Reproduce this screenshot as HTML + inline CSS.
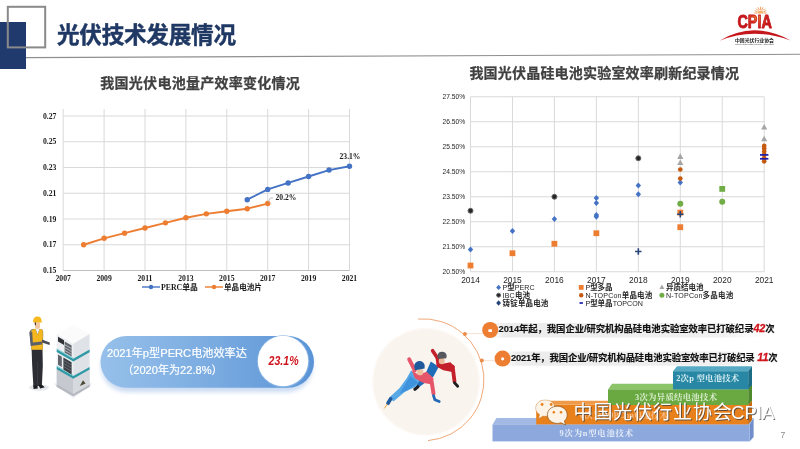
<!DOCTYPE html>
<html lang="zh"><head><meta charset="utf-8"><title>光伏技术发展情况</title>
<style>html,body{margin:0;padding:0;background:#fff}body{width:800px;height:449px;overflow:hidden}svg{display:block}text{font-family:"Liberation Sans","Noto Sans CJK SC",sans-serif}.sf{font-family:"Liberation Serif","Noto Serif CJK SC",serif}</style></head><body>
<svg width="800" height="449" viewBox="0 0 800 449">
<defs>
<linearGradient id="pill" x1="0" y1="0" x2="1" y2="0"><stop offset="0" stop-color="#96c0ea"/><stop offset="0.55" stop-color="#79aae0"/><stop offset="1" stop-color="#5a94d6"/></linearGradient>
<linearGradient id="bar1" x1="0" y1="0" x2="1" y2="0"><stop offset="0" stop-color="#ffffff" stop-opacity="0"/><stop offset="0.08" stop-color="#ececec"/><stop offset="0.8" stop-color="#f0f0f0"/><stop offset="1" stop-color="#ffffff" stop-opacity="0"/></linearGradient>
<radialGradient id="cpia" gradientUnits="userSpaceOnUse" cx="757" cy="17" r="13"><stop offset="0" stop-color="#f0882a"/><stop offset="0.5" stop-color="#d83a20"/><stop offset="1" stop-color="#c4161c"/></radialGradient>
<filter id="blur2" x="-20%" y="-20%" width="140%" height="140%"><feGaussianBlur stdDeviation="2"/></filter>
<filter id="blur05" x="-10%" y="-20%" width="120%" height="140%"><feGaussianBlur stdDeviation="0.5"/></filter>
<filter id="blur1" x="-20%" y="-20%" width="140%" height="140%"><feGaussianBlur stdDeviation="1"/></filter>
</defs>
<rect width="800" height="449" fill="#fff"/>
<rect x="0" y="22" width="26" height="47" fill="#203a6e"/>
<path d="M26 57.6 L800 54.3" stroke="#8f8f8f" stroke-width="1.1" fill="none"/>
<rect x="7.8" y="6.8" width="37.4" height="40.6" fill="none" stroke="#8a8a8a" stroke-width="2"/>
<text x="57" y="43.1" font-size="22.6" font-weight="bold" fill="#1f3864" stroke="#1f3864" stroke-width="0.45" letter-spacing="-0.25">光伏技术发展情况</text>
<g id="logo">
<line x1="757.3" y1="13.0" x2="754.3" y2="13.0" stroke="#f0a060" stroke-width="1"/>
<line x1="757.5" y1="11.8" x2="754.8" y2="10.6" stroke="#f0a060" stroke-width="1"/>
<line x1="758.2" y1="10.7" x2="756.1" y2="8.6" stroke="#f0a060" stroke-width="1"/>
<line x1="759.3" y1="10.0" x2="758.1" y2="7.3" stroke="#f0a060" stroke-width="1"/>
<line x1="760.5" y1="9.8" x2="760.5" y2="6.8" stroke="#f0a060" stroke-width="1"/>
<line x1="761.7" y1="10.0" x2="762.9" y2="7.3" stroke="#f0a060" stroke-width="1"/>
<line x1="762.8" y1="10.7" x2="764.9" y2="8.6" stroke="#f0a060" stroke-width="1"/>
<line x1="763.5" y1="11.8" x2="766.2" y2="10.6" stroke="#f0a060" stroke-width="1"/>
<line x1="763.7" y1="13.0" x2="766.7" y2="13.0" stroke="#f0a060" stroke-width="1"/>
<path d="M757.5 13.5 A3 3 0 0 1 763.5 13.5 Z" fill="#f6b26b"/>
<text x="737.4" y="28" font-size="18.5" font-weight="bold" fill="url(#cpia)" stroke="#c4161c" stroke-width="0.9" stroke-linejoin="round" textLength="34.4" lengthAdjust="spacingAndGlyphs">CPIA</text>
<path d="M719.6 40.8 Q753 20 790.6 40.4 Q753 27 719.6 40.8 Z" fill="#c4161c"/>
<text x="754.5" y="41.7" font-size="4.8" font-weight="bold" fill="#222" text-anchor="middle" textLength="39" lengthAdjust="spacingAndGlyphs">中国光伏行业协会</text>
<text x="754.5" y="45" font-size="2.4" fill="#444" text-anchor="middle" textLength="39" lengthAdjust="spacingAndGlyphs">China Photovoltaic Industry Association</text>
</g>
<text x="200.2" y="88.3" font-size="14" font-weight="bold" fill="#404040" stroke="#404040" stroke-width="0.25" text-anchor="middle" letter-spacing="0.27">我国光伏电池量产效率变化情况</text>
<path d="M63.20 270.50H349.50M63.20 244.75H349.50M63.20 219.00H349.50M63.20 193.25H349.50M63.20 167.50H349.50M63.20 141.75H349.50M63.20 116.00H349.50M63.20 109.00V270.50M104.10 109.00V270.50M145.00 109.00V270.50M185.90 109.00V270.50M226.80 109.00V270.50M267.70 109.00V270.50M308.60 109.00V270.50M349.50 109.00V270.50" stroke="#d9d9d9" stroke-width="1" fill="none"/>
<path d="M63.20 270.50H349.50" stroke="#bfbfbf" stroke-width="1" fill="none"/>
<text class="sf" x="56.4" y="273.10" font-size="7.7" font-weight="bold" fill="#1a1a1a" text-anchor="end">0.15</text>
<text class="sf" x="56.4" y="247.35" font-size="7.7" font-weight="bold" fill="#1a1a1a" text-anchor="end">0.17</text>
<text class="sf" x="56.4" y="221.60" font-size="7.7" font-weight="bold" fill="#1a1a1a" text-anchor="end">0.19</text>
<text class="sf" x="56.4" y="195.85" font-size="7.7" font-weight="bold" fill="#1a1a1a" text-anchor="end">0.21</text>
<text class="sf" x="56.4" y="170.10" font-size="7.7" font-weight="bold" fill="#1a1a1a" text-anchor="end">0.23</text>
<text class="sf" x="56.4" y="144.35" font-size="7.7" font-weight="bold" fill="#1a1a1a" text-anchor="end">0.25</text>
<text class="sf" x="56.4" y="118.60" font-size="7.7" font-weight="bold" fill="#1a1a1a" text-anchor="end">0.27</text>
<text class="sf" x="63.20" y="281" font-size="7.7" font-weight="bold" fill="#1a1a1a" text-anchor="middle">2007</text>
<text class="sf" x="104.10" y="281" font-size="7.7" font-weight="bold" fill="#1a1a1a" text-anchor="middle">2009</text>
<text class="sf" x="145.00" y="281" font-size="7.7" font-weight="bold" fill="#1a1a1a" text-anchor="middle">2011</text>
<text class="sf" x="185.90" y="281" font-size="7.7" font-weight="bold" fill="#1a1a1a" text-anchor="middle">2013</text>
<text class="sf" x="226.80" y="281" font-size="7.7" font-weight="bold" fill="#1a1a1a" text-anchor="middle">2015</text>
<text class="sf" x="267.70" y="281" font-size="7.7" font-weight="bold" fill="#1a1a1a" text-anchor="middle">2017</text>
<text class="sf" x="308.60" y="281" font-size="7.7" font-weight="bold" fill="#1a1a1a" text-anchor="middle">2019</text>
<text class="sf" x="349.50" y="281" font-size="7.7" font-weight="bold" fill="#1a1a1a" text-anchor="middle">2021</text>
<path d="M83.65 244.75 L104.10 238.31 L124.55 233.16 L145.00 228.01 L165.45 222.86 L185.90 217.71 L206.35 213.85 L226.80 211.27 L247.25 208.70 L267.70 203.55" stroke="#ed7d31" stroke-width="1.9" fill="none" stroke-linejoin="round"/>
<circle cx="83.65" cy="244.75" r="2.7" fill="#ed7d31"/>
<circle cx="104.10" cy="238.31" r="2.7" fill="#ed7d31"/>
<circle cx="124.55" cy="233.16" r="2.7" fill="#ed7d31"/>
<circle cx="145.00" cy="228.01" r="2.7" fill="#ed7d31"/>
<circle cx="165.45" cy="222.86" r="2.7" fill="#ed7d31"/>
<circle cx="185.90" cy="217.71" r="2.7" fill="#ed7d31"/>
<circle cx="206.35" cy="213.85" r="2.7" fill="#ed7d31"/>
<circle cx="226.80" cy="211.27" r="2.7" fill="#ed7d31"/>
<circle cx="247.25" cy="208.70" r="2.7" fill="#ed7d31"/>
<circle cx="267.70" cy="203.55" r="2.7" fill="#ed7d31"/>
<path d="M247.25 199.69 L267.70 189.39 L288.15 182.95 L308.60 176.51 L329.05 170.07 L349.50 166.21" stroke="#4472c4" stroke-width="1.9" fill="none" stroke-linejoin="round"/>
<circle cx="247.25" cy="199.69" r="2.7" fill="#4472c4"/>
<circle cx="267.70" cy="189.39" r="2.7" fill="#4472c4"/>
<circle cx="288.15" cy="182.95" r="2.7" fill="#4472c4"/>
<circle cx="308.60" cy="176.51" r="2.7" fill="#4472c4"/>
<circle cx="329.05" cy="170.07" r="2.7" fill="#4472c4"/>
<circle cx="349.50" cy="166.21" r="2.7" fill="#4472c4"/>
<path d="M268 202.5 L270.3 198 L273 198" stroke="#a6a6a6" stroke-width="0.7" fill="none"/>
<text class="sf" x="286" y="199.8" font-size="7.6" font-weight="bold" fill="#1a1a1a" text-anchor="middle">20.2%</text>
<text class="sf" x="350" y="158.8" font-size="7.6" font-weight="bold" fill="#1a1a1a" text-anchor="middle">23.1%</text>
<path d="M142 287H160" stroke="#4472c4" stroke-width="1.4"/><circle cx="151" cy="287" r="2.2" fill="#4472c4"/>
<text class="sf" x="161" y="289.8" font-size="7.8" font-weight="bold" fill="#1a1a1a">PERC<tspan font-family='"Liberation Sans","Noto Sans CJK SC",sans-serif'>单晶</tspan></text>
<path d="M205 287H223" stroke="#ed7d31" stroke-width="1.4"/><circle cx="214" cy="287" r="2.2" fill="#ed7d31"/>
<text x="224" y="289.8" font-size="7.6" font-weight="bold" fill="#1a1a1a">单晶电池片</text>
<text x="604.3" y="78" font-size="14" font-weight="bold" fill="#404040" stroke="#404040" stroke-width="0.25" text-anchor="middle" letter-spacing="0.2">我国光伏晶硅电池实验室效率刷新纪录情况</text>
<path d="M470.50 271.75H764.20M470.50 246.75H764.20M470.50 221.75H764.20M470.50 196.75H764.20M470.50 171.75H764.20M470.50 146.75H764.20M470.50 121.75H764.20M470.50 96.75H764.20M470.50 96.75V271.75M512.46 96.75V271.75M554.41 96.75V271.75M596.37 96.75V271.75M638.33 96.75V271.75M680.29 96.75V271.75M722.24 96.75V271.75M764.20 96.75V271.75" stroke="#d9d9d9" stroke-width="1" fill="none"/>
<text x="465.2" y="274.35" font-size="6.9" fill="#262626" text-anchor="end" textLength="22.6" lengthAdjust="spacingAndGlyphs">20.50%</text>
<text x="465.2" y="249.35" font-size="6.9" fill="#262626" text-anchor="end" textLength="22.6" lengthAdjust="spacingAndGlyphs">21.50%</text>
<text x="465.2" y="224.35" font-size="6.9" fill="#262626" text-anchor="end" textLength="22.6" lengthAdjust="spacingAndGlyphs">22.50%</text>
<text x="465.2" y="199.35" font-size="6.9" fill="#262626" text-anchor="end" textLength="22.6" lengthAdjust="spacingAndGlyphs">23.50%</text>
<text x="465.2" y="174.35" font-size="6.9" fill="#262626" text-anchor="end" textLength="22.6" lengthAdjust="spacingAndGlyphs">24.50%</text>
<text x="465.2" y="149.35" font-size="6.9" fill="#262626" text-anchor="end" textLength="22.6" lengthAdjust="spacingAndGlyphs">25.50%</text>
<text x="465.2" y="124.35" font-size="6.9" fill="#262626" text-anchor="end" textLength="22.6" lengthAdjust="spacingAndGlyphs">26.50%</text>
<text x="465.2" y="99.35" font-size="6.9" fill="#262626" text-anchor="end" textLength="22.6" lengthAdjust="spacingAndGlyphs">27.50%</text>
<text x="470.50" y="282.6" font-size="8.4" fill="#262626" text-anchor="middle">2014</text>
<text x="512.46" y="282.6" font-size="8.4" fill="#262626" text-anchor="middle">2015</text>
<text x="554.41" y="282.6" font-size="8.4" fill="#262626" text-anchor="middle">2016</text>
<text x="596.37" y="282.6" font-size="8.4" fill="#262626" text-anchor="middle">2017</text>
<text x="638.33" y="282.6" font-size="8.4" fill="#262626" text-anchor="middle">2018</text>
<text x="680.29" y="282.6" font-size="8.4" fill="#262626" text-anchor="middle">2019</text>
<text x="722.24" y="282.6" font-size="8.4" fill="#262626" text-anchor="middle">2020</text>
<text x="764.20" y="282.6" font-size="8.4" fill="#262626" text-anchor="middle">2021</text>
<rect x="467.60" y="262.60" width="5.80" height="5.80" fill="#ed7d31"/>
<rect x="509.56" y="250.35" width="5.80" height="5.80" fill="#ed7d31"/>
<rect x="551.51" y="240.85" width="5.80" height="5.80" fill="#ed7d31"/>
<rect x="593.47" y="230.35" width="5.80" height="5.80" fill="#ed7d31"/>
<rect x="677.39" y="209.70" width="5.80" height="5.80" fill="#ed7d31"/>
<rect x="677.39" y="224.30" width="5.80" height="5.80" fill="#ed7d31"/>
<path d="M470.50 246.50L473.20 249.50L470.50 252.50L467.80 249.50Z" fill="#4472c4"/>
<path d="M512.46 228.00L515.16 231.00L512.46 234.00L509.76 231.00Z" fill="#4472c4"/>
<path d="M554.41 216.00L557.11 219.00L554.41 222.00L551.71 219.00Z" fill="#4472c4"/>
<path d="M596.37 195.00L599.07 198.00L596.37 201.00L593.67 198.00Z" fill="#4472c4"/>
<path d="M596.37 200.00L599.07 203.00L596.37 206.00L593.67 203.00Z" fill="#4472c4"/>
<path d="M596.37 212.00L599.07 215.00L596.37 218.00L593.67 215.00Z" fill="#4472c4"/>
<path d="M596.37 213.75L599.07 216.75L596.37 219.75L593.67 216.75Z" fill="#4472c4"/>
<path d="M638.33 182.60L641.03 185.60L638.33 188.60L635.63 185.60Z" fill="#4472c4"/>
<path d="M638.33 191.30L641.03 194.30L638.33 197.30L635.63 194.30Z" fill="#4472c4"/>
<path d="M680.29 179.40L682.99 182.40L680.29 185.40L677.59 182.40Z" fill="#4472c4"/>
<circle cx="470.50" cy="210.75" r="2.50" fill="#262626" stroke="#6a6a6a" stroke-width="1"/>
<circle cx="554.41" cy="196.75" r="2.50" fill="#262626" stroke="#6a6a6a" stroke-width="1"/>
<circle cx="638.33" cy="158.25" r="2.50" fill="#262626" stroke="#6a6a6a" stroke-width="1"/>
<path d="M680.29 153.30L683.39 158.88L677.19 158.88Z" fill="#a5a5a5"/>
<path d="M680.29 159.50L683.39 165.08L677.19 165.08Z" fill="#a5a5a5"/>
<path d="M764.20 123.90L767.30 129.48L761.10 129.48Z" fill="#a5a5a5"/>
<path d="M764.20 135.70L767.30 141.28L761.10 141.28Z" fill="#a5a5a5"/>
<circle cx="680.29" cy="169.50" r="2.35" fill="#c55a11"/>
<circle cx="680.29" cy="178.60" r="2.35" fill="#c55a11"/>
<circle cx="764.20" cy="145.90" r="2.35" fill="#c55a11"/>
<circle cx="764.20" cy="148.50" r="2.35" fill="#c55a11"/>
<circle cx="764.20" cy="151.50" r="2.35" fill="#c55a11"/>
<circle cx="764.20" cy="154.50" r="2.35" fill="#c55a11"/>
<circle cx="764.20" cy="158.00" r="2.35" fill="#c55a11"/>
<circle cx="764.20" cy="161.30" r="2.35" fill="#c55a11"/>
<circle cx="680.29" cy="203.80" r="3.00" fill="#70ad47"/>
<circle cx="722.24" cy="201.75" r="3.00" fill="#70ad47"/>
<rect x="719.34" y="186.00" width="5.80" height="5.80" fill="#70ad47"/>
<path d="M635.13 251.50H641.53M638.33 248.30V254.70" stroke="#264478" stroke-width="1.6" fill="none"/>
<path d="M677.09 214.20H683.49M680.29 211.00V217.40" stroke="#264478" stroke-width="1.6" fill="none"/>
<path d="M760.00 154.90H768.40" stroke="#1c1cb0" stroke-width="1.7" fill="none"/>
<path d="M760.00 158.80H768.40" stroke="#1c1cb0" stroke-width="1.7" fill="none"/>
<path d="M498.60 284.70L501.03 287.40L498.60 290.10L496.17 287.40Z" fill="#4472c4"/>
<text x="502.6" y="290.1" font-size="7.1" fill="#262626" letter-spacing="0.00">P<tspan font-weight="bold" font-size="7.5">型</tspan>PERC</text>
<circle cx="498.60" cy="295.20" r="2.00" fill="#262626" stroke="#6a6a6a" stroke-width="1"/>
<text x="502.6" y="297.9" font-size="7.1" fill="#262626" letter-spacing="0.15">IBC<tspan font-weight="bold" font-size="7.5">电池</tspan></text>
<path d="M498.60 300.30L501.03 303.00L498.60 305.70L496.17 303.00Z" fill="#264478"/>
<text x="502.6" y="305.7" font-size="7.1" fill="#262626" letter-spacing="0.15"><tspan font-weight="bold" font-size="7.5">铸锭单晶电池</tspan></text>
<rect x="578.80" y="285.00" width="4.80" height="4.80" fill="#ed7d31"/>
<text x="585.4" y="290.1" font-size="7.1" fill="#262626" letter-spacing="0.00">P<tspan font-weight="bold" font-size="7.5">型多晶</tspan></text>
<circle cx="581.20" cy="295.20" r="2.20" fill="#c55a11"/>
<text x="585.4" y="297.9" font-size="7.1" fill="#262626" letter-spacing="0.17">N-TOPCon<tspan font-weight="bold" font-size="7.5">单晶电池</tspan></text>
<path d="M579.50 303.00H582.90" stroke="#1c1cb0" stroke-width="1.7" fill="none"/>
<text x="585.4" y="305.7" font-size="7.1" fill="#262626" letter-spacing="0.00">P<tspan font-weight="bold" font-size="7.5">型单晶</tspan>TOPCON</text>
<path d="M661.90 284.50L664.40 289.00L659.40 289.00Z" fill="#a5a5a5"/>
<text x="666.0" y="290.1" font-size="7.1" fill="#262626" letter-spacing="0.00"><tspan font-weight="bold" font-size="7.5">异质结电池</tspan></text>
<circle cx="661.90" cy="295.20" r="2.50" fill="#70ad47"/>
<text x="666.0" y="297.9" font-size="7.1" fill="#262626" letter-spacing="0.20">N-TOPCon<tspan font-weight="bold" font-size="7.5">多晶电池</tspan></text>
<g id="worker">
<ellipse cx="39" cy="387.6" rx="10" ry="3.2" fill="#e6e8ec"/>
<path d="M31.6 349 L42.5 349 L42.8 366 L41.9 385.6 L37.9 386 L37.6 386.4 L33.4 386.4 L32.2 366 Z" fill="#2d2e34"/>
<path d="M37.7 362 L37.5 386" stroke="#45464e" stroke-width="0.6" fill="none"/>
<path d="M33.2 385.5 L37.2 385.5 L37.8 388.6 L33.6 389 Z" fill="#1c1c20"/><path d="M38.2 384.8 L41.8 384.8 L44.8 387.2 L40.2 388.4 Z" fill="#1c1c20"/>
<path d="M29.6 333 Q29.4 329.4 33 329 L41 329 Q43.6 329.4 43.2 333 L43 349.5 L31.6 349.5 Z" fill="#6a6e78"/>
<path d="M31.4 330.2 L35.4 328.6 L37.6 335 L39.8 328.6 L42.8 330.2 L42.8 349.8 L31.4 349.8 Z" fill="#f4b81e"/>
<path d="M35.6 328.6 L37.6 334.6 L39.6 328.6 Z" fill="#f4f4f4"/>
<path d="M29.4 332.6 L32.2 332 L32.8 342.4 L41.8 341.6 L42.2 344.6 L30.6 346 Z" fill="#5c606a"/>
<path d="M42 339.6 L49.8 342.6 L49.6 345 L42 342.6 Z" fill="#494c54"/>
<rect x="35" y="321.6" width="5" height="7.4" rx="2.2" fill="#f1c8a4"/>
<path d="M34.6 322 L36 322 L36 325.6 L34.8 325 Z" fill="#5a4030"/>
<path d="M32.9 322 Q33.4 316.5 37.6 316.6 Q41.6 316.8 41.6 321.2 L42.4 322.6 L32.9 322.2 Z" fill="#f6ba20"/>
</g>
<g id="cabinet">
<path d="M53.7 384 L73.3 374.6 L92.6 384 L73.3 398.4 Z" fill="#eef0f3"/>
<path d="M56.7 334.2 L73.3 324.6 L89.6 334 L73.3 343.8 Z" fill="#fbfbfc"/>
<path d="M56.7 334.2 L73.3 343.8 L73.3 396.2 L56.7 386.7 Z" fill="#eceef1"/>
<path d="M73.3 343.8 L89.6 334 L89.6 386.7 L73.3 396.2 Z" fill="#dfe2e7"/>
<path d="M56.7 369 L73.3 378.5 L73.3 396.2 L56.7 386.7 Z" fill="#c6c9cf"/>
<path d="M73.3 378.5 L89.6 369.4 L89.6 386.7 L73.3 396.2 Z" fill="#d6d9de"/>
<path d="M56.7 384.4 L73.3 394 L89.6 384.4 L89.6 386.7 L73.3 396.2 L56.7 386.7 Z" fill="#b4b7bd"/>
<path d="M56.7 349.2 L73.3 358.7 L89.6 349.6 L89.6 352.2 L73.3 361.4 L56.7 351.9 Z" fill="#2f9aa6"/>
<path d="M56.7 348.2 L73.3 357.7 L73.3 358.7 L56.7 349.2 Z" fill="#7fd0d4"/>
<path d="M56.7 366.6 L73.3 376.1 L89.6 367.0 L89.6 369.6 L73.3 378.8 L56.7 369.3 Z" fill="#2f9aa6"/>
<path d="M56.7 365.6 L73.3 375.1 L73.3 376.1 L56.7 366.6 Z" fill="#7fd0d4"/>
<path d="M58 336.8 L64 340.2 L64 345 L58 341.6 Z" fill="#2e3036"/>
<path d="M64.6 341.6 L71.6 345.6 L71.6 356.4 L64.6 352.4 Z" fill="#60636b"/>
<path d="M64.6 344.6 L71.6 348.6 M64.6 347.6 L71.6 351.6 M64.6 350.4 L71.6 354.4" stroke="#d8dadd" stroke-width="0.7"/>
<path d="M58 354.6 L61.8 356.8 L61.8 367 L58 364.8 Z" fill="#60636b"/>
<path d="M63.4 357.4 L71.6 362.2 L71.6 374.4 L63.4 369.6 Z" fill="#3c3e45"/>
<path d="M63.4 360.4 L71.6 365.2 M63.4 363.4 L71.6 368.2 M63.4 366.4 L71.6 371.2" stroke="#8a8d94" stroke-width="0.6"/>
<path d="M79.8 386 L83 380.2 L85.6 383.4 Z" fill="#4c4a34"/>
</g>
<rect x="101" y="340" width="212" height="52" rx="26" fill="#a9c4ea" opacity="0.6" filter="url(#blur2)"/>
<rect x="100.5" y="336" width="213.5" height="51.8" rx="25.9" fill="url(#pill)"/>
<circle cx="283.2" cy="361.3" r="26.1" fill="#86b2e4"/>
<circle cx="283" cy="361" r="25.2" fill="#fff"/>
<text x="176.9" y="356.8" font-size="11.15" fill="#fff" text-anchor="middle" stroke="#fff" stroke-width="0.2">2021年p型PERC电池效率达</text>
<text x="172.4" y="374.1" font-size="11.1" fill="#fff" text-anchor="middle" stroke="#fff" stroke-width="0.2">（2020年为22.8%）</text>
<text x="268.6" y="365.4" font-size="12.4" font-weight="bold" font-style="italic" fill="#d0141c" textLength="30" lengthAdjust="spacingAndGlyphs">23.1%</text>
<circle cx="426" cy="381.8" r="54" fill="#fdf9f6"/>
<circle cx="426" cy="381.8" r="52.6" fill="#faf4ef"/>
<path d="M418 319 A61 61 0 0 1 428 440.6" stroke="#f0a878" stroke-width="1" fill="none"/>
<path d="M465 333.6 H484 M481.8 360.6 H496" stroke="#f7d9c4" stroke-width="0.8"/>
<circle cx="464.9" cy="334" r="2" fill="#ec8a48"/><circle cx="481.8" cy="360.6" r="2" fill="#ec8a48"/>
<rect x="480" y="323" width="302" height="14.4" rx="7" fill="url(#bar1)"/>
<rect x="494" y="351.4" width="288" height="14.4" rx="7" fill="url(#bar1)"/>
<circle cx="490.2" cy="330" r="8" fill="#ed7d31"/><rect x="488.4" y="329.2" width="3.6" height="2.8" rx="0.6" fill="#fff"/>
<circle cx="502.6" cy="358.6" r="8" fill="#ed7d31"/><circle cx="502.6" cy="358.8" r="1.6" fill="#fff"/>
<text x="498.6" y="332.3" font-size="9.4" font-weight="bold" fill="#111" stroke="#111" stroke-width="0.15" textLength="276" lengthAdjust="spacing">2014年起，我国企业/研究机构晶硅电池实验室效率已打破纪录<tspan fill="#d0141c" font-style="italic" font-size="10.8" stroke="#d0141c" stroke-width="0.3">42</tspan>次</text>
<text x="511" y="360.9" font-size="9.4" font-weight="bold" fill="#111" stroke="#111" stroke-width="0.15" textLength="266.6" lengthAdjust="spacing">2021年，我国企业/研究机构晶硅电池实验室效率已打破纪录<tspan fill="#d0141c" font-style="italic" font-size="10.8" stroke="#d0141c" stroke-width="0.3"> 11</tspan>次</text>
<g id="skaters" stroke-linecap="round" stroke-linejoin="round" fill="none">
<path d="M430.8 361.4 L438.8 366.7 L433.5 376.5 L423.7 383.7 L418.3 387.8 L415.7 384.6 L424.6 375.7 Z" fill="#1f6db8" stroke="none"/>
<path d="M417.8 386.7 L414.9 389.2" stroke="#1e1e22" stroke-width="3.2"/>
<path d="M438.8 360.0 L432.6 350.7" stroke="#c4202c" stroke-width="3.6"/>
<path d="M435.6 357.8 L441.5 364.1 L450.4 362.3 L454.9 366.7 L452.2 372.1 L443.3 370.3 L436.7 366.7 Z" fill="#c4202c" stroke="none"/>
<path d="M452.7 366.7 L454.5 381.4" stroke="#c4202c" stroke-width="3.8"/>
<path d="M454.5 382.8 L457.7 386.3" stroke="#1e1e22" stroke-width="2.8"/>
<ellipse cx="441.7" cy="361.0" rx="3" ry="3.3" fill="#e9b99a" stroke="none"/>
<path d="M437.4 356.0 A4.7 4.7 0 0 1 446.7 355.7 L446.3 358.2 L438.1 358.9 Z" fill="#57585d" stroke="none"/>
<path d="M411.2 370.3 L420.1 380.1 L415.7 386.7 L405.0 391.7 L393.4 401.5 L389.3 397.4 L399.6 388.1 L406.7 378.3 Z" fill="#58a8e6" stroke="none"/>
<path d="M410.3 375.7 L418.3 382.8 L406.7 390.8 L399.6 393.5 Z" fill="#3f93dc" stroke="none"/>
<path d="M390.7 398.8 L388.0 403.3" stroke="#1f5a9c" stroke-width="3.6"/>
<path d="M387.1 404.5 L384.5 408.1" stroke="#f0a030" stroke-width="1.0"/>
<path d="M414.8 370.3 L409.2 359.3" stroke="#e6566a" stroke-width="3.9"/>
<path d="M411.7 369.9 L418.3 374.8 L426.7 371.7 L433.5 378.3 L431.7 384.6 L422.8 382.8 L414.8 378.3 Z" fill="#e6566a" stroke="none"/>
<path d="M431.3 379.6 L433.5 393.5" stroke="#e6566a" stroke-width="4.0"/>
<path d="M433.5 395.6 L434.9 399.7 L439.2 401.5" stroke="#2468b4" stroke-width="2.8"/>
<ellipse cx="420.1" cy="372.1" rx="3.3" ry="3.3" fill="#efc0a0" stroke="none"/>
<path d="M414.2 366.7 A5.3 5.3 0 0 1 424.7 365.3 L424.6 368.5 L415.1 370.3 Z" fill="#1f5a9c" stroke="none"/>
</g>
<path d="M492.5 424.4 L496.5 418.1 L753.6 418.1 L749.6 424.4 Z" fill="#a3bae4"/>
<path d="M749.6 424.4 L753.6 418.1 L753.6 436.9 L749.6 441.4 Z" fill="#6f8fcc"/>
<rect x="492.5" y="424.4" width="257.1" height="17.0" fill="#8ca8dc"/>
<path d="M536.2 404.6 L540.2 400.8 L752.0 400.8 L748.2 404.6 Z" fill="#ee9a48"/>
<path d="M748.2 404.6 L752.0 400.8 L752.0 419.9 L748.2 424.4 Z" fill="#c96a10"/>
<rect x="536.2" y="404.6" width="212.0" height="19.8" fill="#e8811c"/>
<path d="M608.0 389.4 L612.0 383.8 L752.0 383.8 L748.2 389.4 Z" fill="#8cc46a"/>
<path d="M748.2 389.4 L752.0 383.8 L752.0 400.5 L748.2 405.0 Z" fill="#4f8a2c"/>
<rect x="608.0" y="389.4" width="140.2" height="15.6" fill="#6aa842"/>
<path d="M673.0 371.2 L677.0 366.2 L752.0 366.2 L748.2 371.2 Z" fill="#56aac4"/>
<path d="M748.2 371.2 L752.0 366.2 L752.0 384.9 L748.2 389.4 Z" fill="#1c6c86"/>
<rect x="673.0" y="371.2" width="75.2" height="18.2" fill="#2887a4"/>
<text class="sf" x="676.2" y="380.5" font-size="8.4" font-weight="bold" fill="#d6eef2" textLength="63" lengthAdjust="spacing">2次p 型电池技术</text>
<text class="sf" x="635" y="400.2" font-size="8.4" font-weight="bold" fill="#dcefd0" textLength="82" lengthAdjust="spacing">3次为异质结电池技术</text>
<text class="sf" x="580" y="417.6" font-size="8.4" font-weight="bold" fill="#fbe3cc" opacity="0.6" textLength="88" lengthAdjust="spacing">6次为TOPCon电池技术</text>
<text class="sf" x="559.6" y="435.6" font-size="8.4" font-weight="bold" fill="#e6ecf8" textLength="73.4" lengthAdjust="spacing">9次为n型电池技术</text>
<g id="wm">
<path d="M545.2 400 C539.6 400 535.6 403.6 535.6 408 C535.6 410.8 537.2 413.2 539.6 414.6 L538.6 418.8 L543 416 C543.7 416.1 544.4 416.2 545.2 416.2 C550.8 416.2 555 412.6 555 408 C555 403.6 550.8 400 545.2 400 Z" fill="#fdf3e6" stroke="#a9661c" stroke-width="0.5" stroke-opacity="0.6"/>
<path d="M557.3 406.2 C551.6 406.2 547.4 410 547.4 414.8 C547.4 419.6 551.6 423.4 557.3 423.4 C558.6 423.4 559.9 423.2 561 422.8 L565.6 425 L564.4 421 C566.2 419.4 567.2 417.2 567.2 414.8 C567.2 410 563 406.2 557.3 406.2 Z" fill="#fdf3e6" stroke="#8a5418" stroke-width="0.7"/>
<circle cx="542.1" cy="404.5" r="1.4" fill="#e8811c"/><circle cx="551.2" cy="404.5" r="1.4" fill="#e8811c"/><circle cx="553.8" cy="412.3" r="1.25" fill="#e8811c"/><circle cx="561" cy="412.3" r="1.25" fill="#e8811c"/>
<text x="574.4" y="420.3" font-size="19" font-weight="400" fill="#3c3c3c" opacity="0.75" filter="url(#blur05)" letter-spacing="0.9">中国光伏行业协会</text>
<text x="731.9" y="420.3" font-size="19" font-weight="400" fill="#3c3c3c" opacity="0.75" filter="url(#blur05)" textLength="43.6" lengthAdjust="spacingAndGlyphs">CPIA</text>
<text x="573.5" y="419.4" font-size="19" font-weight="400" fill="#fff" letter-spacing="0.9">中国光伏行业协会</text>
<text x="731.0" y="419.4" font-size="19" font-weight="400" fill="#fff" textLength="43.6" lengthAdjust="spacingAndGlyphs">CPIA</text>
</g>
<text x="783" y="438" font-size="8.6" fill="#8c8c8c" text-anchor="middle">7</text>
</svg></body></html>
